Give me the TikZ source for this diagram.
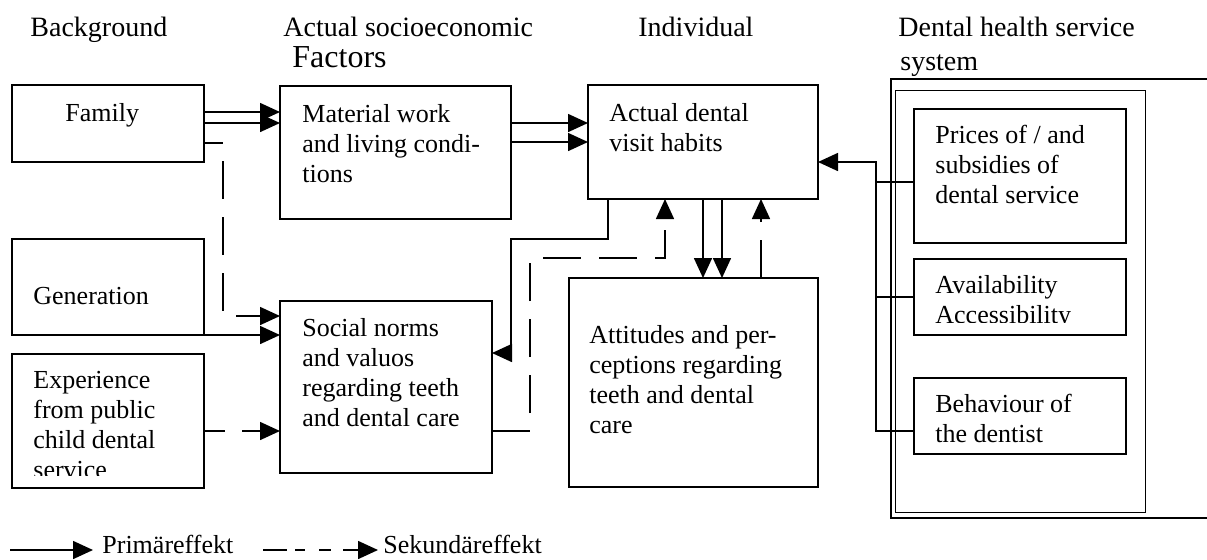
\documentclass[tikz,border=0pt]{standalone}
\usepackage{fontspec}
\setmainfont{Liberation Serif}
\usetikzlibrary{arrows.meta}
\newcommand\lines[1]{\begin{tabular}[t]{@{}l@{}}#1\end{tabular}}
\begin{document}
\begin{tikzpicture}[x=0.5pt,y=-0.5pt,
  box/.style={draw,line width=0.8pt,inner sep=0pt,outer sep=0pt,anchor=north west},
  lbl/.style={inner sep=0pt,anchor=base west,font=\fontsize{13}{15}\selectfont},
  hdr/.style={inner sep=0pt,anchor=base west,font=\fontsize{14}{16}\selectfont},
  ln/.style={line width=0.8pt},
  pa/.style={ln,-{Triangle[length=10pt,width=9pt]}},
  da/.style={pa,dash pattern=on 19pt off 9pt}]
\useasboundingbox (0,0) rectangle (1207,559);

% headers
\node[hdr] (h1) at (30,36) {Background};
\node[hdr] (h2) at (283,36) {Actual socioeconomic};
\node[hdr,font=\fontsize{16}{18}\selectfont] (h2b) at (292,67) {Factors};
\node[hdr] (h3) at (638,36) {Individual};
\node[hdr] (h4) at (898,36) {Dental health service};
\node[hdr] (h4b) at (900,70) {system};

% boxes
\node[box,minimum width=96pt,minimum height=38.5pt] (fam) at (12,85) {};
\node[box,minimum width=115.5pt,minimum height=66.5pt] (mat) at (280,86) {};
\node[box,minimum width=115pt,minimum height=57pt] (act) at (588,85) {};
\node[box,minimum width=96pt,minimum height=48pt] (gen) at (12,239) {};
\node[box,minimum width=96pt,minimum height=67pt] (exp) at (12,354) {};
\node[box,minimum width=106pt,minimum height=86pt] (soc) at (280,301) {};
\node[box,minimum width=124.5pt,minimum height=104.5pt] (att) at (569,278) {};

% right panel
\draw[line width=1.1pt] (1212,79) -- (891,79) -- (891,518) -- (1212,518);
\node[box,line width=0.5pt,minimum width=125pt,minimum height=211pt] (inner) at (895,90) {};
\node[box,minimum width=106pt,minimum height=67pt] (pri) at (914,109) {};
\node[box,minimum width=106pt,minimum height=38pt] (ava) at (914,259) {};
\node[box,minimum width=106pt,minimum height=38pt] (beh) at (914,378) {};

% texts
\node[lbl] (famt) at (65,121) {Family};
\node[lbl] (matt) at (302,122) {\lines{Material work\\and living condi-\\tions}};
\node[lbl] (actt) at (609,121) {\lines{Actual dental\\visit habits}};
\node[lbl] (gent) at (33,304) {Generation};
\begin{scope}
\clip (12,354) rectangle (204,475);
\node[lbl] (expt) at (33,388) {\lines{Experience\\from public\\child dental\\service}};
\end{scope}
\node[lbl] (soct) at (302,336) {\lines{Social norms\\and valuos\\regarding teeth\\and dental care}};
\node[lbl] (attt) at (589,343) {\lines{Attitudes and per-\\ceptions regarding\\teeth and dental\\care}};
\node[lbl] (prit) at (935,143) {\lines{Prices of / and\\subsidies of\\dental service}};
\begin{scope}
\clip (914,259) rectangle (1126,322);
\node[lbl] (avat) at (935,293) {\lines{Availability\\Accessibility}};
\end{scope}
\node[lbl] (beht) at (935,412) {\lines{Behaviour of\\the dentist}};

% connectors
\draw[pa] (fam.east |- 0,112) -- (mat.west |- 0,112);
\draw[pa] (fam.east |- 0,123) -- (mat.west |- 0,123);
\draw[da,dash phase=9.5pt] (fam.east |- 0,143) -- (223,143) -- (223,316) -- (soc.west |- 0,316);
\draw[pa] (gen.south east) -- (soc.west |- gen.south east);
\draw[pa,dash pattern=on 10.5pt off 8.5pt] (exp.east |- 0,431) -- (soc.west |- 0,431);
\draw[pa] (mat.east |- 0,123) -- (act.west |- 0,123);
\draw[pa] (mat.east |- 0,142) -- (act.west |- 0,142);
\draw[pa] (act.south -| 703,0) -- (att.north -| 703,0);
\draw[pa] (act.south -| 722,0) -- (att.north -| 722,0);
\draw[da] (soc.east |- 0,431) -- (530,431) -- (530,258) -- (665,258) -- (act.south -| 665,0);
\draw[da] (att.north -| 761,0) -- (act.south -| 761,0);
\draw[pa] (act.south -| 608,0) -- (608,239) -- (511,239) -- (511,353) -- (soc.east |- 0,353);
\draw[ln] (pri.west |- 0,182) -- (876,182);
\draw[ln] (ava.west) -- (876,297);
\draw[pa] (beh.west |- 0,431) -- (876,431) -- (876,162) -- (act.east |- 0,162);

% legend
\coordinate (l1s) at (10,550);
\coordinate (l1e) at (93,550);
\node[lbl] (l1t) at (102,553) {Primäreffekt};
\draw[pa] (l1s) -- (l1e);
\coordinate (l2s) at (263,550);
\coordinate (l2e) at (378,550);
\node[lbl] (l2t) at (383,553) {Sekundäreffekt};
\draw[pa,dash pattern=on 12pt off 4pt on 5pt off 7pt on 6pt off 6pt] (l2s) -- (l2e);
\end{tikzpicture}
\end{document}
